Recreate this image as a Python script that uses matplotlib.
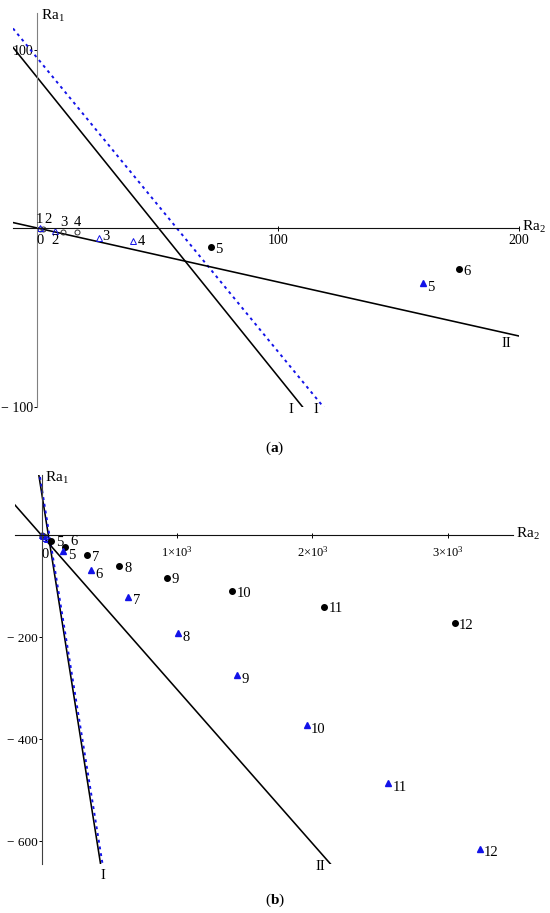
import numpy as np
import matplotlib.pyplot as plt

plt.rcParams['font.family'] = ['Liberation Serif', 'DejaVu Serif']
plt.rcParams['mathtext.fontset'] = 'custom'
plt.rcParams['mathtext.rm'] = 'Liberation Serif'
plt.rcParams['mathtext.it'] = 'Liberation Serif:italic'
plt.rcParams['mathtext.bf'] = 'Liberation Serif:bold'
plt.rcParams['mathtext.default'] = 'rm'

BLUE = '#1212e8'

# 直线  Ra1 = a + b * Ra2
line_I = (84.6, -1.675)      # I  (black solid)
line_I2 = (95.5, -1.645)     # I' (blue dashed)
line_II = (0.24, -0.3025)    # II (black solid)

# hollow markers close to the origin
open_circ_lbl = ['1', '2', '3', '4']
open_circ_x = [1.0, 2.5, 10.8, 16.6]
open_circ_y = [-0.2, -0.5, -2.2, -2.2]

open_tri_lbl = ['0', '2', '3', '4']
open_tri_x = [1.2, 7.5, 25.6, 40.0]
open_tri_y = [0.0, -1.5, -5.2, -7.2]

# filled markers
pt_lbl = ['5', '6', '7', '8', '9', '10', '11', '12']
circ_x = [72, 175, 338, 574, 924, 1408, 2087, 3050]
circ_y = [-10.5, -23, -39, -60, -83, -110, -140, -172]
tri_x = [160, 363, 641, 1005, 1440, 1957, 2560, 3236]
tri_y = [-30.7, -68, -120, -192, -274, -373, -487, -615]

fig = plt.figure(figsize=(5.5, 9.13), dpi=100)

ax_a = fig.add_axes([13 / 550, 1 - 407 / 913, 506 / 550, 394 / 913])
ax_b = fig.add_axes([15 / 550, 1 - 864 / 913, 498 / 550, 389 / 913])


def setup_axes(ax, xlim, ylim, xt, xtl, yt, ytl, left_col, xfs, yfs, xpad):
    ax.set_xlim(*xlim)
    ax.set_ylim(*ylim)
    ax.patch.set_visible(False)
    for s in ['top', 'right']:
        ax.spines[s].set_visible(False)
    ax.spines['left'].set_position(('data', 0))
    ax.spines['bottom'].set_position(('data', 0))
    ax.spines['left'].set_color(left_col)
    ax.spines['bottom'].set_color('#111111')
    ax.spines['left'].set_linewidth(0.8)
    ax.spines['bottom'].set_linewidth(0.8)
    ax.set_xticks(xt)
    ax.set_xticklabels(xtl, fontsize=xfs)
    ax.set_yticks(yt)
    ax.set_yticklabels(ytl, fontsize=yfs)
    ax.tick_params(axis='x', direction='inout', length=3.6, width=0.7, pad=xpad)
    ax.tick_params(axis='y', direction='out', length=2, width=0.7, pad=0.5)
    ax.annotate('Ra$_1$', xy=(0, ylim[1]), xytext=(2.5, -2), textcoords='offset points',
                ha='left', va='center', fontsize=11)
    ax.annotate('Ra$_2$', xy=(xlim[1], 0), xytext=(2.5, 1), textcoords='offset points',
                ha='left', va='center', fontsize=11)


def draw_lines(ax, xlim):
    x = np.linspace(xlim[0], xlim[1], 2)
    ax.plot(x, line_I[0] + line_I[1] * x, color='black', lw=1.15)
    ax.plot(x, line_I2[0] + line_I2[1] * x, color=BLUE, lw=1.4, ls=(0, (1.5, 2.0)))
    ax.plot(x, line_II[0] + line_II[1] * x, color='black', lw=1.15)


def label(ax, text, x, y, off, fs=10.5):
    ax.annotate(text, xy=(x, y), xytext=off, textcoords='offset points',
                ha='center', va='center', fontsize=fs)


def line_end(line, ylo, xhi):
    a, b = line
    x = min((ylo - a) / b, xhi)
    return x, a + b * x


# ---------- (a) ----------
xa, ya = (-10, 200), (-100, 120.6)
setup_axes(ax_a, xa, ya, [100, 200], ['100', '200'], [100, -100], ['100', '\u2212 100'],
           '#808080', 10, 10, 2)
draw_lines(ax_a, xa)
ax_a.plot(open_circ_x, open_circ_y, 'o', mfc='none', mec='#333333', ms=3.6, mew=0.7)
ax_a.plot(open_tri_x, open_tri_y, '^', mfc='none', mec=BLUE, ms=3.8, mew=0.7)
ax_a.plot(circ_x, circ_y, 'o', color='black', ms=4)
ax_a.plot(tri_x, tri_y, '^', color=BLUE, ms=4.5)

circ_off_a = [(0, 7), (3.5, 7), (0.5, 7), (0.5, 7)]
for t, x, y, o in zip(open_circ_lbl, open_circ_x, open_circ_y, circ_off_a):
    label(ax_a, t, x, y, o)
tri_off_a = [(0, -8.5), (0, -7), (5.5, 0.5), (6, -0.5)]
for t, x, y, o in zip(open_tri_lbl, open_tri_x, open_tri_y, tri_off_a):
    label(ax_a, t, x, y, o)
for t, x, y in zip(pt_lbl, circ_x, circ_y):
    if x < xa[1]:
        label(ax_a, t, x, y, (6, -1.5))
for t, x, y in zip(pt_lbl, tri_x, tri_y):
    if x < xa[1]:
        label(ax_a, t, x, y, (6, -3))

label(ax_a, 'I', *line_end(line_I, ya[0], xa[1]), (-8.3, -1.5))
label(ax_a, 'I', *line_end(line_I2, ya[0], xa[1]), (-5.5, -1.5))
label(ax_a, 'II', *line_end(line_II, ya[0], xa[1]), (-9, -5.5))

fig.text(275 / 550, 1 - 448 / 913, '($\\mathbf{a}$)', ha='center', va='center', fontsize=11)

# ---------- (b) ----------
xb, yb = (-196, 3480), (-645, 118.5)
setup_axes(ax_b, xb, yb, [1000, 2000, 3000], ['1×10$^3$', '2×10$^3$', '3×10$^3$'],
           [-200, -400, -600], ['\u2212 200', '\u2212 400', '\u2212 600'],
           '#404040', 9, 9.5, 5)
draw_lines(ax_b, xb)
ax_b.plot(open_circ_x, open_circ_y, 'o', mfc='none', mec='#333333', ms=3.6, mew=0.7)
ax_b.plot(open_tri_x, open_tri_y, '^', mfc='none', mec=BLUE, ms=3.8, mew=0.7)
ax_b.plot(circ_x, circ_y, 'o', color='black', ms=4)
ax_b.plot(tri_x, tri_y, '^', color=BLUE, ms=4.5)

label(ax_b, open_tri_lbl[0], open_tri_x[0], open_tri_y[0], (2.5, -14))
for t, x, y in zip(pt_lbl, circ_x, circ_y):
    off = (6.5, 4) if t == '6' else (6 + 2.2 * (len(t) - 1), -1.5)
    label(ax_b, t, x, y, off)
for t, x, y in zip(pt_lbl, tri_x, tri_y):
    label(ax_b, t, x, y, (6 + 2.2 * (len(t) - 1), -3))

label(ax_b, 'I', *line_end(line_I, yb[0], xb[1]), (1.5, -8))
label(ax_b, 'II', *line_end(line_II, yb[0], xb[1]), (-7, -2))

fig.text(275 / 550, 1 - 900 / 913, '($\\mathbf{b}$)', ha='center', va='center', fontsize=11)

fig.savefig('out.png', dpi=100)
